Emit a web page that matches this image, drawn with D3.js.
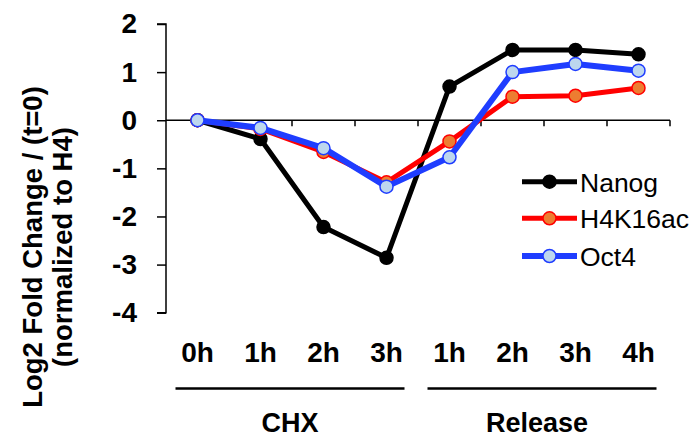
<!DOCTYPE html>
<html>
<head>
<meta charset="utf-8">
<script src="https://cdn.jsdelivr.net/npm/d3@7/dist/d3.min.js"></script>
<style>
  html, body { margin: 0; padding: 0; background: #fff; }
  svg { display: block; font-family: "Liberation Sans", Arial, sans-serif; }
</style>
</head>
<body>
<svg id="chart" width="693" height="438"></svg>
<script>
// Time points (two phases: cycloheximide treatment, then release)
const timeLabels = ["0h", "1h", "2h", "3h", "1h", "2h", "3h", "4h"];
const phaseOf    = ["CHX", "CHX", "CHX", "CHX", "Release", "Release", "Release", "Release"];
const phases     = ["CHX", "Release"];

// Log2 fold change relative to t=0, normalized to H4
const nanog   = [0, -0.39, -2.22, -2.86, 0.70, 1.46, 1.46, 1.37];
const h4k16ac = [0, -0.18, -0.66, -1.29, -0.44, 0.49, 0.51, 0.67];
const oct4    = [0, -0.16, -0.58, -1.38, -0.77, 1.00, 1.17, 1.03];

const yTicks = [2, 1, 0, -1, -2, -3, -4];

const seriesNames = ["Nanog", "H4K16ac", "Oct4"];
const seriesValues = [nanog, h4k16ac, oct4];
const lineColors   = ["#000000", "#ff0000", "#1f3dff"];
const markerFill   = ["#000000", "#ed7d31", "#bdd7ee"];
const markerStroke = ["#000000", "#ff0000", "#1f3dff"];
const lineWidths   = [5, 5, 6];

const svg = d3.select("#chart");

const x = d3.scaleBand().domain(d3.range(timeLabels.length)).range([166, 670]);
const cx = i => x(i) + x.bandwidth() / 2;
const y = d3.scaleLinear().domain([-4, 2]).range([312.7, 24]);

// Y axis
const yAxis = d3.axisLeft(y)
  .tickValues(yTicks)
  .tickSize(9)
  .tickPadding(20)
  .tickFormat(d => String(d));

const gy = svg.append("g").attr("transform", "translate(166,0)").call(yAxis);
gy.select(".domain").attr("d", `M-9,${y(2)}H0V${y(-4)}H-9`).attr("stroke-width", 1.5);
gy.selectAll(".tick line").attr("stroke-width", 1.5);
gy.selectAll(".tick text")
  .attr("font-size", 28)
  .attr("font-weight", "bold")
  .attr("font-family", "'Liberation Sans', Arial, sans-serif")
  .attr("fill", "#000");

// Zero line with downward ticks at category boundaries
const gx = svg.append("g");
gx.append("line")
  .attr("x1", x.range()[0]).attr("x2", x.range()[1])
  .attr("y1", y(0)).attr("y2", y(0))
  .attr("stroke", "#000").attr("stroke-width", 1.5);
gx.selectAll("line.xt")
  .data(d3.range(timeLabels.length))
  .join("line")
  .attr("class", "xt")
  .attr("x1", i => x(i) + x.bandwidth()).attr("x2", i => x(i) + x.bandwidth())
  .attr("y1", y(0)).attr("y2", y(0) + 6)
  .attr("stroke", "#000").attr("stroke-width", 1.5);

// Series lines and markers
const line = d3.line().x((d, i) => cx(i)).y(d => y(d));

seriesValues.forEach((vals, s) => {
  const g = svg.append("g");
  g.append("path")
    .datum(vals)
    .attr("d", line)
    .attr("fill", "none")
    .attr("stroke", lineColors[s])
    .attr("stroke-width", lineWidths[s])
    .attr("stroke-linejoin", "round");
  g.selectAll("circle")
    .data(vals)
    .join("circle")
    .attr("cx", (d, i) => cx(i))
    .attr("cy", d => y(d))
    .attr("r", 6.5)
    .attr("fill", markerFill[s])
    .attr("stroke", markerStroke[s])
    .attr("stroke-width", 1.5);
});

// Time point labels
svg.append("g")
  .selectAll("text")
  .data(timeLabels)
  .join("text")
  .attr("x", (d, i) => cx(i))
  .attr("y", 362)
  .attr("text-anchor", "middle")
  .attr("font-size", 28)
  .attr("font-weight", "bold")
  .text(d => d);

// Phase brackets and labels
phases.forEach(p => {
  const idx = phaseOf.map((q, i) => q === p ? i : -1).filter(i => i >= 0);
  const x0 = cx(idx[0]) - 22;
  const x1 = cx(idx[idx.length - 1]) + 18;
  svg.append("line")
    .attr("x1", x0).attr("x2", x1)
    .attr("y1", 388.5).attr("y2", 388.5)
    .attr("stroke", "#000").attr("stroke-width", 2.5);
  svg.append("text")
    .attr("x", (x0 + x1) / 2 - (p === "Release" ? 5 : 0))
    .attr("y", 432)
    .attr("text-anchor", "middle")
    .attr("font-size", 27)
    .attr("font-weight", "bold")
    .text(p);
});

// Y axis title
const yt = svg.append("text")
  .attr("transform", "translate(0,247) rotate(-90)")
  .attr("text-anchor", "middle")
  .attr("font-size", 27.5)
  .attr("font-weight", "bold");
yt.append("tspan").attr("x", 0).attr("y", 41.5).text("Log2 Fold Change / (t=0)");
yt.append("tspan").attr("x", 0).attr("y", 71.5).text("(normalized to H4)");

// Legend
const legendY = [181.7, 218.3, 256];
seriesNames.forEach((name, s) => {
  const g = svg.append("g").attr("transform", `translate(0,${legendY[s]})`);
  g.append("line")
    .attr("x1", 522).attr("x2", 577)
    .attr("stroke", lineColors[s]).attr("stroke-width", lineWidths[s]);
  g.append("circle")
    .attr("cx", 549.5).attr("r", 6.5)
    .attr("fill", markerFill[s])
    .attr("stroke", markerStroke[s]).attr("stroke-width", 1.5);
  g.append("text")
    .attr("x", 580).attr("y", 10)
    .attr("font-size", 26.5)
    .text(name);
});
</script>
</body>
</html>
